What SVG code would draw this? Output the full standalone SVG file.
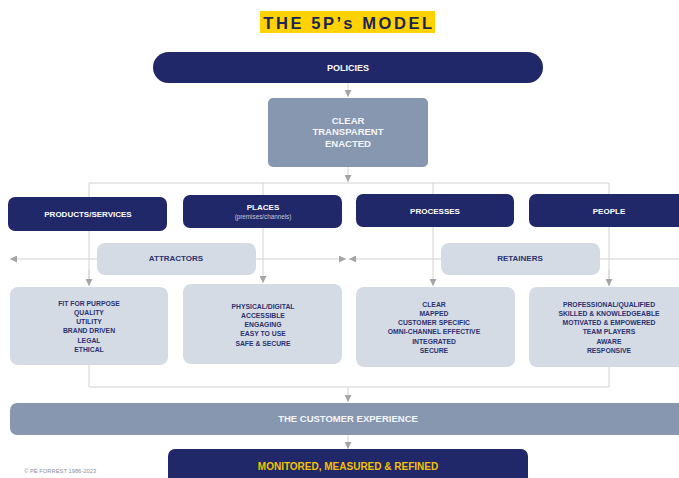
<svg xmlns="http://www.w3.org/2000/svg" width="679" height="478" viewBox="0 0 679 478">
  <style>
    .navy { fill: #20286a; }
    .slate { fill: #8797b0; }
    .pale { fill: #d5dbe5; }
    .link { fill: none; stroke: #d2d2d2; stroke-width: 1; }
    text { font-family: "Liberation Sans", Arial, sans-serif; font-weight: bold; text-anchor: middle; }
    .hd { fill: #ffffff; font-size: 8px; }
    .big { fill: #ffffff; font-size: 9px; }
    .lbl { fill: #2a3270; font-size: 8px; }
    .item { fill: #2a3270; font-size: 6.8px; }
    .white { fill: #f4f5f9; font-size: 9.5px; }
  </style>
  <defs>
    <marker id="tip" viewBox="0 0 10 10" refX="10" refY="5" markerWidth="7" markerHeight="7" markerUnits="userSpaceOnUse" orient="auto-start-reverse">
      <path d="M0,0 L10,5 L0,10 z" fill="#a5a5a5"/>
    </marker>
  </defs>

  <rect width="679" height="478" fill="#ffffff"/>

  <!-- title -->
  <g id="title">
    <rect x="260" y="11" width="175" height="22" fill="#ffd200"/>
    <text x="349" y="28.5" font-size="16.5" letter-spacing="2.6" fill="#1c2458" style="font-weight:900">THE 5P’s MODEL</text>
  </g>

  <!-- connectors -->
  <g id="connectors">
    <line class="link" x1="348" y1="83" x2="348" y2="97" marker-end="url(#tip)"/>
    <line class="link" x1="348" y1="167" x2="348" y2="182" marker-end="url(#tip)"/>
    <polyline class="link" points="89,285 89,183 609,183 609,286"/>
    <line class="link" x1="89" y1="270" x2="89" y2="286" marker-end="url(#tip)"/>
    <line class="link" x1="263" y1="183" x2="263" y2="283" marker-end="url(#tip)"/>
    <line class="link" x1="433" y1="183" x2="433" y2="286" marker-end="url(#tip)"/>
    <line class="link" x1="609" y1="270" x2="609" y2="286" marker-end="url(#tip)"/>
    <line class="link" x1="10" y1="259" x2="346" y2="259" marker-start="url(#tip)" marker-end="url(#tip)"/>
    <line class="link" x1="349" y1="259" x2="690" y2="259" marker-start="url(#tip)" marker-end="url(#tip)"/>
    <polyline class="link" points="89,365 89,387 609,387 609,367"/>
    <line class="link" x1="348" y1="387" x2="348" y2="402" marker-end="url(#tip)"/>
    <line class="link" x1="348" y1="435" x2="348" y2="449" marker-end="url(#tip)"/>
  </g>

  <g id="policies">
    <rect class="navy" x="153" y="52" width="390" height="31" rx="15.5"/>
    <text class="big" x="348" y="70.5">POLICIES</text>
  </g>

  <g id="principles">
    <rect class="slate" x="268" y="98" width="160" height="69" rx="5"/>
    <text class="white" x="348" y="123.5">CLEAR</text>
    <text class="white" x="348" y="135">TRANSPARENT</text>
    <text class="white" x="348" y="146.5">ENACTED</text>
  </g>

  <g id="products">
    <rect class="navy" x="8" y="197" width="159" height="34" rx="7"/>
    <text class="hd" x="88" y="217">PRODUCTS/SERVICES</text>
  </g>

  <g id="places">
    <rect class="navy" x="183" y="195" width="159" height="33" rx="7"/>
    <text class="hd" x="263" y="210">PLACES</text>
    <text x="263" y="219" font-size="6.3" fill="#c4c8dc" style="font-weight:normal">(premises/channels)</text>
  </g>

  <g id="processes">
    <rect class="navy" x="356" y="194" width="158" height="33" rx="7"/>
    <text class="hd" x="435" y="213.5">PROCESSES</text>
  </g>

  <g id="people">
    <rect class="navy" x="529" y="194" width="170" height="33" rx="7"/>
    <text class="hd" x="609" y="213.5">PEOPLE</text>
  </g>

  <g id="attractors">
    <rect class="pale" x="97" y="243" width="159" height="32" rx="8"/>
    <text class="lbl" x="176" y="261">ATTRACTORS</text>
  </g>

  <g id="retainers">
    <rect class="pale" x="441" y="243" width="159" height="32" rx="8"/>
    <text class="lbl" x="520" y="261">RETAINERS</text>
  </g>

  <g id="products-traits">
    <rect class="pale" x="10" y="287" width="158" height="78" rx="8"/>
    <text class="item" x="89" y="305.5">FIT FOR PURPOSE</text>
    <text class="item" x="89" y="314.8">QUALITY</text>
    <text class="item" x="89" y="324.1">UTILITY</text>
    <text class="item" x="89" y="333.4">BRAND DRIVEN</text>
    <text class="item" x="89" y="342.7">LEGAL</text>
    <text class="item" x="89" y="352">ETHICAL</text>
  </g>

  <g id="places-traits">
    <rect class="pale" x="183" y="284" width="159" height="80" rx="8"/>
    <text class="item" x="263" y="308.5">PHYSICAL/DIGITAL</text>
    <text class="item" x="263" y="317.8">ACCESSIBLE</text>
    <text class="item" x="263" y="327.1">ENGAGING</text>
    <text class="item" x="263" y="336.4">EASY TO USE</text>
    <text class="item" x="263" y="345.7">SAFE &amp; SECURE</text>
  </g>

  <g id="processes-traits">
    <rect class="pale" x="356" y="287" width="159" height="80" rx="8"/>
    <text class="item" x="434" y="306.5">CLEAR</text>
    <text class="item" x="434" y="315.8">MAPPED</text>
    <text class="item" x="434" y="325.1">CUSTOMER SPECIFIC</text>
    <text class="item" x="434" y="334.4">OMNI-CHANNEL EFFECTIVE</text>
    <text class="item" x="434" y="343.7">INTEGRATED</text>
    <text class="item" x="434" y="353">SECURE</text>
  </g>

  <g id="people-traits">
    <rect class="pale" x="529" y="287" width="170" height="80" rx="8"/>
    <text class="item" x="609" y="306.5">PROFESSIONAL/QUALIFIED</text>
    <text class="item" x="609" y="315.8">SKILLED &amp; KNOWLEDGEABLE</text>
    <text class="item" x="609" y="325.1">MOTIVATED &amp; EMPOWERED</text>
    <text class="item" x="609" y="334.4">TEAM PLAYERS</text>
    <text class="item" x="609" y="343.7">AWARE</text>
    <text class="item" x="609" y="353">RESPONSIVE</text>
  </g>

  <g id="customer-experience">
    <rect class="slate" x="10" y="403" width="690" height="32" rx="7"/>
    <text class="white" x="348" y="421.5">THE CUSTOMER EXPERIENCE</text>
  </g>

  <g id="monitoring">
    <rect class="navy" x="168" y="449" width="360" height="40" rx="7"/>
    <text x="348" y="469.5" font-size="10" fill="#f2c200">MONITORED, MEASURED &amp; REFINED</text>
  </g>

  <text x="24" y="473" font-size="5.8" fill="#8a8f9e" style="font-weight:normal;text-anchor:start">© PE FORREST 1986-2023</text>
</svg>
